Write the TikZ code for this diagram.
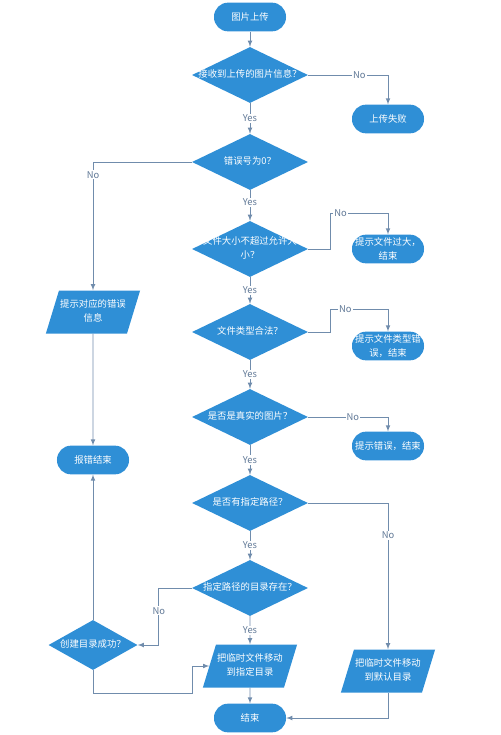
\documentclass[tikz,border=0pt]{standalone}
\usepackage{fontspec}
\setmainfont{Noto Sans CJK SC}
\usepackage{tikz}
\usetikzlibrary{arrows,calc,positioning,shapes,shapes.geometric}
\definecolor{flowblue}{RGB}{47,143,214}
\definecolor{lineblue}{RGB}{112,140,172}
\definecolor{labelblue}{RGB}{96,120,150}
\newcommand{\flowtext}[2][0pt]{\makebox[#1]{\begin{tabular}{@{}c@{}}#2\end{tabular}}}
\tikzset{%
	startstop/.style= {rectangle, rounded corners=0.42cm, fill=flowblue, text=white, minimum width=2.16cm, minimum height=0.86cm, inner sep=1pt, align=center, font=\fontsize{8}{12}\selectfont},
	inout/.style    = {trapezium, trapezium left angle=65, trapezium right angle=115, trapezium stretches=true, fill=flowblue, text=white, minimum height=1.29cm, inner sep=0pt, font=\fontsize{8}{12}\selectfont},
	decision/.style = {diamond, fill=flowblue, text=white, minimum width=3.48cm, minimum height=1.68cm, inner sep=0pt, font=\fontsize{8}{12}\selectfont},
	arrow/.style    = {draw=lineblue, line width=0.8pt, -latex},
	answer/.style   = {fill=white, text=labelblue, inner sep=1pt, font=\fontsize{8}{10}\selectfont},
}
\begin{document}
\begin{tikzpicture}[x=0.03cm, y=-0.03cm]
	\useasboundingbox (0,0) rectangle (500,735);
	% main column
	\node[startstop] (start) at (250,17) {图片上传};
	\node[decision] (recv) at (250,75) {\flowtext{接收到上传的图片信息？}};
	\node[decision] (errno) at (250,162) {\flowtext{错误号为0？}};
	\node[decision] (size) at (250,249) {\flowtext{文件大小不超过允许大\\小？}};
	\node[decision] (type) at (250,332) {\flowtext{文件类型合法？}};
	\node[decision] (real) at (250,417) {\flowtext{是否是真实的图片？}};
	\node[decision] (path) at (250,503) {\flowtext{是否有指定路径？}};
	\node[decision] (exist) at (250,588) {\flowtext{指定路径的目录存在？}};
	\node[inout] (movepath) at (250,666) {\flowtext[2.04cm]{把临时文件移动\\到指定目录}};
	\node[startstop] (stop) at (250,718) {结束};
	% right column
	\node[startstop] (fail) at (388,119) {上传失败};
	\node[startstop] (big) at (388,249) {提示文件过大，\\结束};
	\node[startstop] (badtype) at (388,346) {提示文件类型错\\误，结束};
	\node[startstop] (fake) at (388,446) {提示错误，结束};
	\node[inout] (movedef) at (388,671) {\flowtext[2.04cm]{把临时文件移动\\到默认目录}};
	% left column
	\node[inout] (showerr) at (93,312) {\flowtext[2.04cm]{提示对应的错误\\信息}};
	\node[startstop] (errend) at (93,460) {报错结束};
	\node[decision, minimum width=2.67cm, minimum height=1.5cm] (mkdir) at (93,645) {\flowtext{创建目录成功？}};
	% connectors
	\draw[arrow] (start) -- (recv);
	\draw[arrow] (recv.east) -| node[answer, pos=0.32] {No} (fail.north);
	\draw[arrow] (recv) -- node[answer] {Yes} (errno);
	\draw[arrow] (errno.west) -| node[answer, pos=0.55] {No} (showerr.north);
	\draw[arrow] (errno) -- node[answer, pos=0.4] {Yes} (size);
	\draw[arrow] (size.east) -- ++(22,0) |- node[answer, pos=0.59] {No} ($(big.north)+(0,-21)$) -- (big.north);
	\draw[arrow] (size) -- node[answer] {Yes} (type);
	\draw[arrow] (type.east) -- ++(22,0) |- node[answer, pos=0.63] {No} ($(badtype.north)+(0,-22)$) -- (badtype.north);
	\draw[arrow] (type) -- node[answer] {Yes} (real);
	\draw[arrow] (real.east) -| node[answer, pos=0.28] {No} (fake.north);
	\draw[arrow] (real) -- node[answer] {Yes} (path);
	\draw[arrow] (path.east) -| node[answer, pos=0.61] {No} (movedef.north);
	\draw[arrow] (path) -- node[answer] {Yes} (exist);
	\draw[arrow] (exist.west) -- ++(-33,0) |- node[answer, pos=0.2] {No} (mkdir.east);
	\draw[arrow] (exist) -- node[answer] {Yes} (movepath);
	\draw[arrow] (showerr) -- (errend);
	\draw[arrow] (mkdir) -- (errend);
	\draw[arrow] (mkdir.south) |- ++(99,23) |- (movepath.west);
	\draw[arrow] (movepath) -- (stop);
	\draw[arrow] (movedef.south) |- (stop.east);
\end{tikzpicture}
\end{document}
